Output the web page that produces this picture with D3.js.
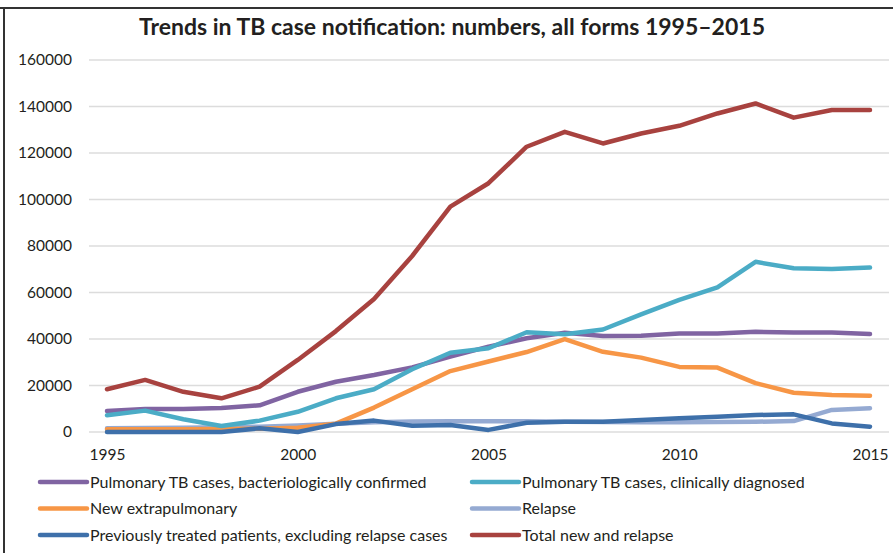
<!DOCTYPE html>
<html>
<head>
<meta charset="utf-8">
<script src="https://cdn.jsdelivr.net/npm/d3@7"></script>
<style>
  body { margin: 0; background: #fff; }
  text { font-family: Lato, "Open Sans", sans-serif; fill: #231f20; }
</style>
</head>
<body>
<div id="chart"></div>
<script>
// data
var years = d3.range(1995, 2016);
var bactConfirmed = [9000, 9900, 9900, 10300, 11500, 17300, 21600, 24500, 27800, 32400, 36700, 40300, 42700, 41300, 41400, 42400, 42400, 43100, 42800, 42800, 42100];
var clinDiagnosed = [7200, 9200, 5500, 2600, 4900, 8700, 14500, 18400, 27000, 34100, 36000, 42900, 42000, 44100, 50600, 56800, 62200, 73200, 70400, 70100, 70700];
var extrapulmonary = [1200, 1200, 1200, 1300, 1400, 1800, 3600, 10500, 18400, 26200, 30300, 34400, 39900, 34500, 32000, 28000, 27700, 21000, 16900, 15900, 15600];
var relapse = [1600, 1700, 1800, 2000, 2300, 2800, 3500, 4200, 4500, 4600, 4600, 4600, 4400, 4300, 4200, 4200, 4300, 4400, 4700, 9500, 10200];
var prevTreated = [0, 0, 0, 0, 1600, 0, 3400, 4900, 2700, 3000, 900, 4000, 4400, 4400, 5200, 5900, 6600, 7300, 7600, 3700, 2300];
var totalNewRelapse = [18400, 22400, 17300, 14500, 19500, 31000, 43400, 57200, 75700, 96900, 107000, 122700, 129100, 124100, 128400, 131700, 137000, 141300, 135200, 138500, 138500];

var yTicks = [0, 20000, 40000, 60000, 80000, 100000, 120000, 140000, 160000];
var xTicks = [1995, 2000, 2005, 2010, 2015];

var series = [
  { name: "Pulmonary TB cases, bacteriologically confirmed", values: bactConfirmed, color: "#8064a2" },
  { name: "Pulmonary TB cases, clinically diagnosed", values: clinDiagnosed, color: "#4bacc6" },
  { name: "New extrapulmonary", values: extrapulmonary, color: "#f79646" },
  { name: "Relapse", values: relapse, color: "#95aad2" },
  { name: "Previously treated patients, excluding relapse cases", values: prevTreated, color: "#3e70aa" },
  { name: "Total new and relapse", values: totalNewRelapse, color: "#a8423f" }
];

var w = 893, h = 553;

var svg = d3.select("#chart")
  .append("svg")
  .attr("width", w)
  .attr("height", h);

// frame (only top and left show in the picture)
svg.append("line").attr("x1", 0).attr("x2", w).attr("y1", 8).attr("y2", 8)
  .attr("stroke", "#333").attr("stroke-width", 2);
svg.append("line").attr("x1", 4).attr("x2", 4).attr("y1", 8).attr("y2", h)
  .attr("stroke", "#333").attr("stroke-width", 2);

svg.append("text")
  .attr("x", 452).attr("y", 35)
  .attr("text-anchor", "middle")
  .style("font-size", "23px")
  .style("font-weight", "bold")
  .text("Trends in TB case notification: numbers, all forms 1995\u20132015");

var x = d3.scaleLinear().domain([1995, 2015]).range([107, 870]);
var y = d3.scaleLinear().domain([0, 160000]).range([432, 60]);

// gridlines
svg.append("g")
  .selectAll("line")
  .data(yTicks)
  .enter()
  .append("line")
  .attr("x1", 89).attr("x2", 889)
  .attr("y1", function(d) { return y(d); })
  .attr("y2", function(d) { return y(d); })
  .attr("stroke", "#dcdcdc")
  .attr("stroke-width", 1.5);

// y axis labels
var yAxis = d3.axisLeft(y).tickValues(yTicks).tickSize(0).tickPadding(0).tickFormat(d3.format("d"));
var gy = svg.append("g").attr("transform", "translate(72,0)").call(yAxis);
gy.select(".domain").remove();
gy.selectAll("text").style("font-size", "15.5px").attr("fill", "#231f20");

// x axis labels
var xAxis = d3.axisBottom(x).tickValues(xTicks).tickSize(0).tickPadding(0).tickFormat(d3.format("d"));
var gx = svg.append("g").attr("transform", "translate(0,449)").call(xAxis);
gx.select(".domain").remove();
gx.selectAll("text").style("font-size", "15.5px").attr("fill", "#231f20");

var line = d3.line()
  .x(function(d, i) { return x(years[i]); })
  .y(function(d) { return y(d); });

// draw order so light relapse sits under the dark blue
var drawOrder = [3, 2, 4, 0, 1, 5];
svg.append("g")
  .selectAll("path")
  .data(drawOrder.map(function(i) { return series[i]; }))
  .enter()
  .append("path")
  .attr("d", function(d) { return line(d.values); })
  .attr("fill", "none")
  .attr("stroke", function(d) { return d.color; })
  .attr("stroke-width", 4.5)
  .attr("stroke-linejoin", "round")
  .attr("stroke-linecap", "round");

// legend
var legend = svg.append("g");
var items = legend.selectAll("g")
  .data(series)
  .enter()
  .append("g")
  .attr("transform", function(d, i) {
    var col = i % 2, row = Math.floor(i / 2);
    return "translate(" + (col ? 472 : 40) + "," + (482 + row * 26.5) + ")";
  });
items.append("line")
  .attr("x1", 0).attr("x2", 47)
  .attr("stroke", function(d) { return d.color; })
  .attr("stroke-width", 4.5)
  .attr("stroke-linecap", "round");
items.append("text")
  .attr("x", 50).attr("dy", "0.35em")
  .style("font-size", "16px")
  .text(function(d) { return d.name; });
</script>
</body>
</html>
